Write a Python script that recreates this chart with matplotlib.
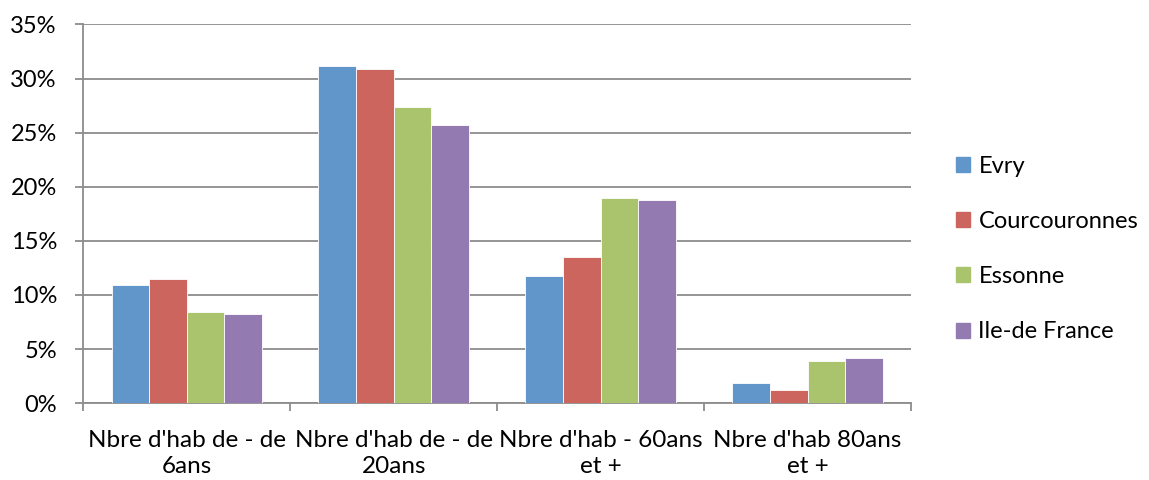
import numpy as np
import matplotlib
matplotlib.use("agg")
import matplotlib.pyplot as plt
from matplotlib.patches import Patch

# categories and series (percent)
categories = ["Nbre d'hab de - de\n6ans", "Nbre d'hab de - de\n20ans",
              "Nbre d'hab - 60ans\net +", "Nbre d'hab 80ans\net +"]
evry = [10.9, 31.15, 11.8, 1.85]
courcouronnes = [11.5, 30.9, 13.55, 1.25]
essonne = [8.45, 27.35, 18.95, 3.9]
idf = [8.2, 25.75, 18.75, 4.15]
series_names = ["Evry", "Courcouronnes", "Essonne", "Ile-de France"]
colors = ["#6096C9", "#CD655F", "#A9C46C", "#937BB1"]

plt.rcParams['font.family'] = ['Lato', 'DejaVu Sans']

fig = plt.figure(figsize=(11.49, 4.8), dpi=100)
ax = fig.add_axes([0.0725, 0.16, 0.7205, 0.789])

x = np.arange(len(categories))
w = 1 / 5.5
for i, vals in enumerate([evry, courcouronnes, essonne, idf]):
	ax.bar(x + (i - 1.5) * w, vals, w, color=colors[i], edgecolor="white", linewidth=0.6, zorder=3)

ax.set_xlim(-0.5, 3.5)
ax.set_ylim(0, 35)
ax.set_yticks(np.arange(0, 36, 5))
ax.set_yticklabels([str(v) + "%" for v in range(0, 36, 5)], fontsize=17)
ax.grid(axis="y", color="#8c8c8c", linewidth=1.3, zorder=0)

# category labels centered, tick marks between categories
ax.set_xticks(np.arange(-0.5, 4, 1))
ax.set_xticklabels([])
ax.set_xticks(x, minor=True)
ax.set_xticklabels(categories, minor=True, fontsize=17.5, linespacing=1.3)
ax.tick_params(axis="x", which="minor", length=0, pad=19)
ax.tick_params(axis="x", which="major", length=6, width=1.3, color="#8c8c8c")
ax.tick_params(axis="y", length=6, width=1.3, color="#8c8c8c", pad=13)

for s in ["top", "right"]:
	ax.spines[s].set_visible(False)
ax.spines["left"].set_color("#8c8c8c")
ax.spines["bottom"].set_color("#8c8c8c")
ax.spines["left"].set_linewidth(1.3)
ax.spines["bottom"].set_linewidth(1.3)

handles = [Patch(color=c) for c in colors]
fig.legend(handles, series_names, loc="center left", bbox_to_anchor=(0.832, 0.481),
           frameon=False, fontsize=17, handlelength=0.6, handleheight=0.6,
           handletextpad=0.35, labelspacing=1.45, borderpad=0, borderaxespad=0)

fig.savefig("out.png")
